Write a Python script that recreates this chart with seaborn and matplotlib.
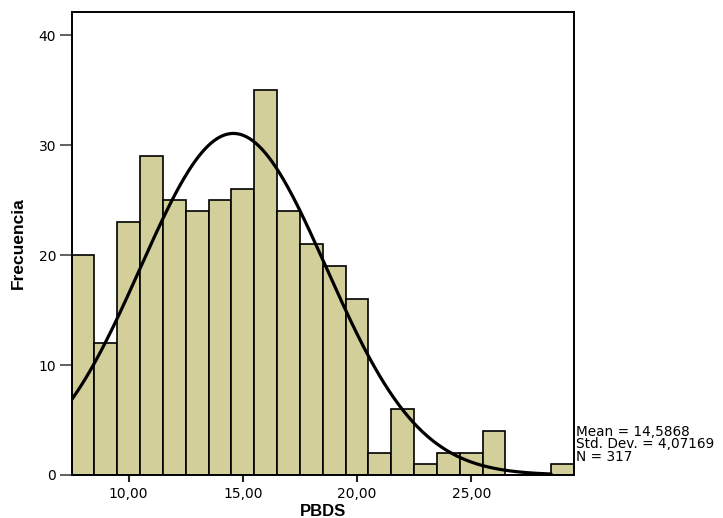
import numpy as np
import pandas as pd
import seaborn as sns
import matplotlib.pyplot as plt

# data (bin width 1, starting at 7.5)
bin_edges = [7.5 + i for i in range(23)]
counts = [20, 12, 23, 29, 25, 24, 25, 26, 35, 24, 21, 19, 16, 2, 6, 1, 2, 2, 4, 0, 0, 1]
mean_val = 14.5868
std_val = 4.07169
n_total = 317
x_ticks = [10, 15, 20, 25]
x_tick_labels = ['10,00', '15,00', '20,00', '25,00']
y_ticks = [0, 10, 20, 30, 40]

sns.set_style('white')
plt.rcParams['font.family'] = ['DejaVu Sans']
plt.rcParams['text.color'] = 'black'
plt.rcParams['axes.labelcolor'] = 'black'
plt.rcParams['xtick.labelcolor'] = 'black'
plt.rcParams['ytick.labelcolor'] = 'black'

centers = [(a + b) / 2 for a, b in zip(bin_edges[:-1], bin_edges[1:])]
df = pd.DataFrame({'PBDS': centers, 'n': counts})

fig = plt.figure(figsize=(7.23, 5.18), dpi=100)
ax = fig.add_axes([71.5 / 723, 43 / 518, (574 - 71.5) / 723, (475 - 12) / 518])

sns.histplot(data=df, x='PBDS', weights='n', bins=bin_edges, ax=ax,
             color='#d3cf9b', alpha=1, edgecolor='black', linewidth=1.2)

# normal curve scaled to counts
xs = np.linspace(bin_edges[0], 28.5, 300)
ys = n_total * 1.0 / (std_val * np.sqrt(2 * np.pi)) * np.exp(-0.5 * ((xs - mean_val) / std_val) ** 2)
ax.plot(xs, ys, color='black', linewidth=2.3)

ax.set_xlim(bin_edges[0], bin_edges[-1])
ax.set_ylim(0, 42.1)
ax.set_xticks(x_ticks)
ax.set_xticklabels(x_tick_labels)
ax.set_yticks(y_ticks)
ax.tick_params(axis='x', direction='out', length=5, width=1.5, color='#222222',
               labelsize=10, bottom=True, pad=4)
ax.tick_params(axis='y', direction='out', length=9, width=1.2, color='#444444',
               labelsize=10, left=True, pad=2)
for s in ax.spines.values():
    s.set_visible(True)
    s.set_color('black')
    s.set_linewidth(1.4)

ax.set_xlabel('PBDS', fontsize=12, fontweight='bold', labelpad=2,
              family=['Liberation Sans', 'DejaVu Sans'])
ax.set_ylabel('Frecuencia', fontsize=12.5, fontweight='bold', labelpad=9,
              family=['Liberation Sans Narrow', 'Liberation Sans', 'DejaVu Sans'])

stats = ['Mean = 14,5868', 'Std. Dev. = 4,07169', 'N = 317']
for i, t in enumerate(stats):
    fig.text(576 / 723, 1 - (432 + i * 12.5) / 518, t, fontsize=9.8, va='center', ha='left')

fig.savefig('out.png', dpi=100)
